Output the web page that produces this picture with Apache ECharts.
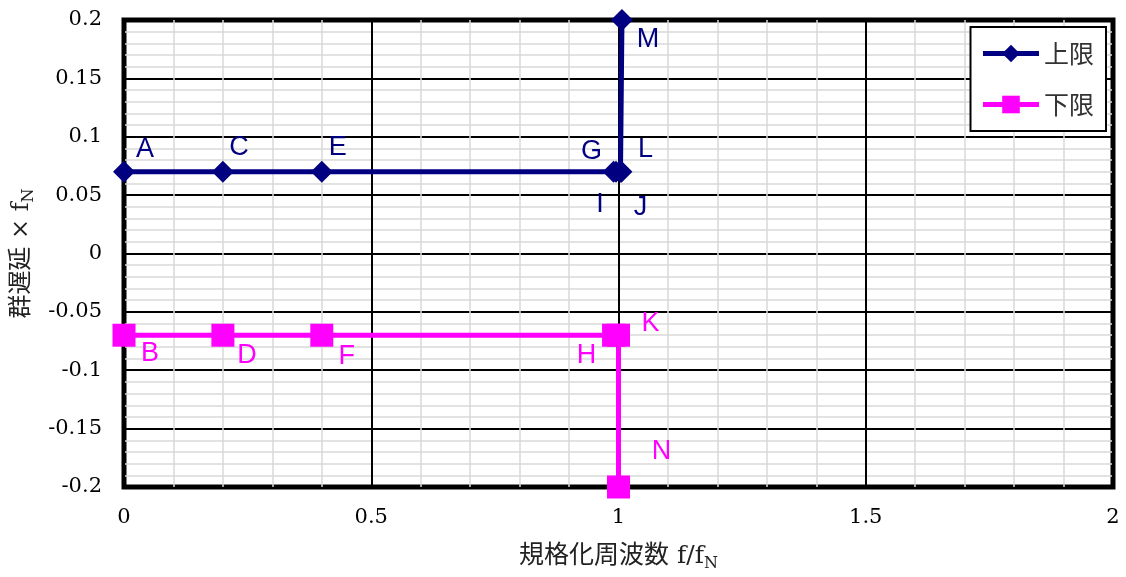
<!DOCTYPE html>
<html>
<head>
<meta charset="utf-8">
<script src="https://cdn.jsdelivr.net/npm/echarts@6/dist/echarts.min.js"></script>
<style>
html,body{margin:0;padding:0;background:#fff;}
#chart{width:1126px;height:577px;}
</style>
</head>
<body>
<div id="chart"></div>
<script>
// 上限
const upperX = [0, 0.2, 0.4, 0.99, 0.995, 1.004, 1.006, 1.007];
const upperY = [0.07, 0.07, 0.07, 0.07, 0.07, 0.07, 0.07, 0.2];
const upperNames = ['A', 'C', 'E', 'G', 'I', 'J', 'L', 'M'];
// 下限
const lowerX = [0, 0.2, 0.4, 0.99, 1.0, 1.0];
const lowerY = [-0.07, -0.07, -0.07, -0.07, -0.07, -0.2];
const lowerNames = ['B', 'D', 'F', 'H', 'K', 'N'];

const seriesNames = ['上限', '下限'];

// ラベル位置 (点からのずれ, px)
const labelOffset = {
    A:[21,-22], C:[16,-24], E:[16,-24], G:[-22,-20], I:[-16,33], J:[20,36], L:[24,-22], M:[26,20],
    B:[26,18], D:[24,20], F:[25,21], H:[-27,20], K:[32,-12], N:[43,-35]
};

const serif = '"DejaVu Serif", "Noto Sans CJK JP", serif';

function makeData(xs, ys, names) {
    return xs.map(function(x, i) {
        return {
            value:[x, ys[i]],
            name:names[i],
            label:{offset:labelOffset[names[i]]}
        };
    });
}

function fmt(v) {
    return String(+v.toFixed(2));
}

const chart = echarts.init(document.getElementById('chart'));
chart.setOption({
    animation:false,
    grid:{
        left:124,
        right:13,
        top:20,
        bottom:87,
        show:true,
        borderColor:'#000',
        borderWidth:5,
        backgroundColor:'transparent'
    },
    xAxis:{
        type:'value',
        min:0,
        max:2,
        interval:0.5,
        name:'規格化周波数 f/f{sub|N}',
        nameLocation:'middle',
        nameGap:54,
        nameTextStyle:{
            color:'#222',
            fontFamily:serif,
            fontSize:25,
            rich:{
                sub:{fontSize:16, fontFamily:serif, color:'#222', padding:[15,0,0,0]}
            }
        },
        axisLine:{show:false},
        axisTick:{show:false},
        axisLabel:{
            color:'#000',
            fontFamily:serif,
            fontSize:21,
            margin:20,
            formatter:fmt
        },
        splitLine:{show:true, lineStyle:{color:'#000', width:2}},
        minorTick:{show:false, splitNumber:5},
        minorSplitLine:{show:true, lineStyle:{color:'#d9d9d9', width:1.5}}
    },
    yAxis:{
        type:'value',
        min:-0.2,
        max:0.2,
        interval:0.05,
        name:'群遅延 × f{sub|N}',
        nameLocation:'middle',
        nameGap:86,
        nameRotate:90,
        nameTextStyle:{
            color:'#222',
            fontFamily:serif,
            fontSize:24,
            rich:{
                sub:{fontSize:16, fontFamily:serif, color:'#222', padding:[15,0,0,0]}
            }
        },
        axisLine:{show:false},
        axisTick:{show:false},
        axisLabel:{
            color:'#000',
            fontFamily:serif,
            fontSize:21,
            margin:22,
            formatter:fmt
        },
        splitLine:{show:true, lineStyle:{color:'#000', width:2}},
        minorTick:{show:false, splitNumber:5},
        minorSplitLine:{show:true, lineStyle:{color:'#d9d9d9', width:1.5}}
    },
    legend:{
        orient:'vertical',
        right:20,
        top:27,
        padding:[14,12,14,10],
        itemGap:26,
        itemWidth:56,
        itemHeight:22,
        backgroundColor:'#fff',
        borderColor:'#000',
        borderWidth:2,
        borderRadius:0,
        lineStyle:{width:5},
        textStyle:{
            color:'#333',
            fontFamily:'"Noto Sans CJK JP", sans-serif',
            fontSize:25
        },
        data:seriesNames
    },
    series:[
        {
            name:seriesNames[0],
            type:'line',
            data:makeData(upperX, upperY, upperNames),
            color:'#000080',
            symbol:'diamond',
            symbolSize:22,
            lineStyle:{width:5, color:'#000080'},
            itemStyle:{color:'#000080'},
            clip:false,
            label:{
                show:true,
                position:'inside',
                color:'#000080',
                fontFamily:'"Liberation Sans", Arial, sans-serif',
                fontSize:27,
                formatter:function(p) { return p.name; }
            },
            z:3
        },
        {
            name:seriesNames[1],
            type:'line',
            data:makeData(lowerX, lowerY, lowerNames),
            color:'#ff00ff',
            symbol:'rect',
            symbolSize:23,
            lineStyle:{width:5, color:'#ff00ff'},
            itemStyle:{color:'#ff00ff'},
            clip:false,
            label:{
                show:true,
                position:'inside',
                color:'#ff00ff',
                fontFamily:'"Liberation Sans", Arial, sans-serif',
                fontSize:27,
                formatter:function(p) { return p.name; }
            },
            z:3
        }
    ]
});
</script>
</body>
</html>
